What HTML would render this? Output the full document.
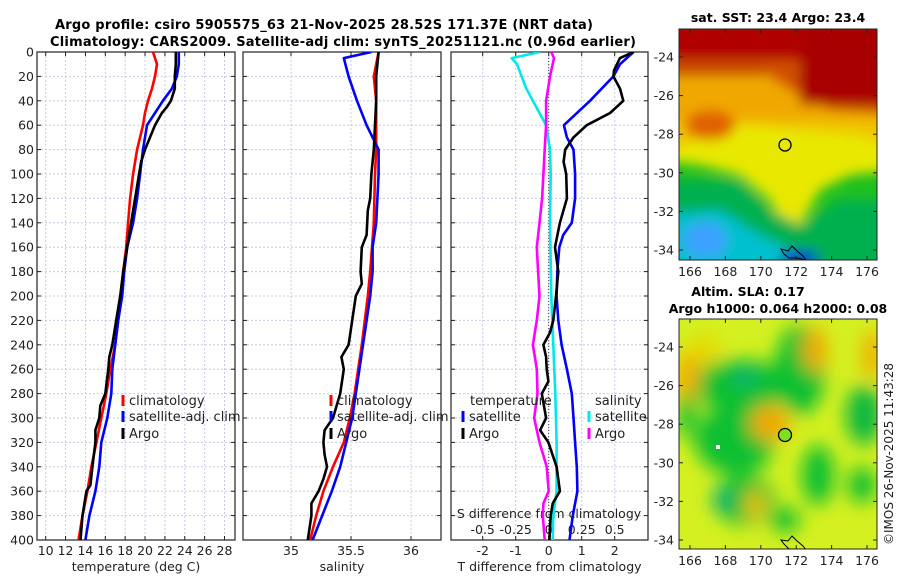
<!DOCTYPE html>
<html><head><meta charset="utf-8"><style>
body{margin:0;background:#fff}
svg{display:block;font-family:"DejaVu Sans","Liberation Sans",sans-serif}
</style></head><body>
<svg id="c" width="900" height="580" viewBox="0 0 900 580" xmlns="http://www.w3.org/2000/svg">
<defs>
<filter id="bl" x="-20%" y="-20%" width="140%" height="140%"><feGaussianBlur stdDeviation="6"/></filter>
<filter id="bl2" x="-30%" y="-30%" width="160%" height="160%"><feGaussianBlur stdDeviation="9"/></filter>
<clipPath id="cm1"><rect x="679" y="29" width="198" height="231"/></clipPath>
<clipPath id="cm2"><rect x="679" y="319" width="198" height="230"/></clipPath>
<clipPath id="cp1"><rect x="37" y="52" width="198" height="488"/></clipPath>
<clipPath id="cp2"><rect x="243" y="52" width="198" height="488"/></clipPath>
<clipPath id="cp3"><rect x="451" y="52" width="198" height="488"/></clipPath>
</defs>
<text x="324" y="29" text-anchor="middle" font-weight="bold" font-size="13" textLength="538">Argo profile: csiro 5905575_63 21-Nov-2025 28.52S 171.37E (NRT data)</text>
<text x="343" y="46" text-anchor="middle" font-weight="bold" font-size="13" textLength="586">Climatology: CARS2009. Satellite-adj clim: synTS_20251121.nc (0.96d earlier)</text>

<g clip-path="url(#cm1)">
<rect x="679" y="29" width="198" height="231" fill="#1ec020"/>
<g filter="url(#bl)">
<rect x="660" y="20" width="240" height="130" fill="#f0a800"/>
<polygon points="660,120 900,120 900,170 850,175 820,190 800,225 785,230 770,200 740,175 700,165 660,160" fill="#e8e800"/>
<polygon points="670,120 900,120 900,150 860,135 800,130 740,125 700,140 670,150" fill="#f0c400"/>
<polygon points="660,180 740,180 770,210 800,225 840,200 900,200 900,280 660,280" fill="#00b050"/>
<polygon points="660,215 720,210 760,235 790,250 760,280 660,280" fill="#00c0d0"/>
<ellipse cx="705" cy="240" rx="22" ry="18" fill="#3aa0ff"/>
<ellipse cx="800" cy="258" rx="20" ry="8" fill="#0040d0"/>
<rect x="660" y="20" width="240" height="55" fill="#b00000"/>
<polygon points="660,70 760,70 790,90 830,110 900,115 900,60 660,60" fill="#d05000"/>
<rect x="800" y="20" width="100" height="85" fill="#a80000"/>
<ellipse cx="710" cy="125" rx="25" ry="15" fill="#e06000"/>
</g>
</g>
<rect x="679" y="29" width="198" height="231" fill="none" stroke="#222" stroke-width="1"/>
<circle cx="785" cy="145" r="6" fill="none" stroke="#000" stroke-width="1.3"/>
<path d="M781,249 L788,251 L792,246 L796,250 L803,256 L806,260 L797,258 L789,258 L784,254Z" fill="none" stroke="#000" stroke-width="1" clip-path="url(#cm1)"/>
<text x="778" y="22" text-anchor="middle" font-weight="bold" font-size="12.5">sat. SST: 23.4 Argo: 23.4</text>

<g clip-path="url(#cm2)">
<rect x="679" y="319" width="198" height="230" fill="#d4f020"/>
<g filter="url(#bl2)">
<ellipse cx="740" cy="385" rx="50" ry="25" fill="#10c030"/>
<ellipse cx="735" cy="440" rx="40" ry="35" fill="#10c030"/>
<ellipse cx="800" cy="370" rx="25" ry="45" fill="#10c030"/>
<ellipse cx="745" cy="500" rx="30" ry="25" fill="#10c030"/>
<ellipse cx="864" cy="415" rx="18" ry="30" fill="#10b840"/>
<ellipse cx="818" cy="475" rx="16" ry="30" fill="#10c030"/>
<ellipse cx="862" cy="485" rx="14" ry="18" fill="#10c030"/>
<ellipse cx="785" cy="520" rx="15" ry="12" fill="#10c030"/>
<ellipse cx="687" cy="395" rx="10" ry="45" fill="#10c030"/>
<ellipse cx="745" cy="377" rx="12" ry="9" fill="#10b078"/>
<ellipse cx="722" cy="500" rx="10" ry="12" fill="#10b078"/>
<ellipse cx="770" cy="423" rx="20" ry="18" fill="#f0a800"/>
<ellipse cx="815" cy="350" rx="12" ry="22" fill="#f0a800"/>
<ellipse cx="688" cy="375" rx="12" ry="25" fill="#f0b000"/>
<ellipse cx="872" cy="355" rx="10" ry="25" fill="#f0b000"/>
<ellipse cx="755" cy="505" rx="10" ry="15" fill="#f0c000"/>
<ellipse cx="705" cy="350" rx="15" ry="15" fill="#e8d800"/>
</g>
</g>
<rect x="679" y="319" width="198" height="230" fill="none" stroke="#222" stroke-width="1"/>
<circle cx="785" cy="435" r="6.5" fill="#80e020" stroke="#000" stroke-width="1.3"/>
<rect x="716" y="445" width="4" height="4" fill="#fff"/>
<path d="M781,540 L788,541 L792,536 L796,540 L803,546 L806,550 L797,549 L789,549 L784,544Z" fill="none" stroke="#000" stroke-width="1" clip-path="url(#cm2)"/>
<text x="748" y="296" text-anchor="middle" font-weight="bold" font-size="12.5">Altim. SLA: 0.17</text>
<text x="778" y="313" text-anchor="middle" font-weight="bold" font-size="12.5">Argo h1000: 0.064 h2000: 0.08</text>
<text transform="translate(893,545) rotate(-90)" font-size="12" fill="#222">©IMOS 26-Nov-2025 11:43:28</text>
<g id="mapaxes"></g>

<g id="plots"></g>
</svg>
<script>
const depthT = [0,10,20,30,40,50,60,80,100,120,140,160,180,200,220,240,260,280,300,320,340,360,380,400];
const tempClim = [20.8,21.2,21.0,20.7,20.3,20.0,19.8,19.2,18.8,18.5,18.3,18.1,17.8,17.6,17.3,17.0,16.5,16.1,15.6,15.1,14.6,14.2,13.7,13.3];
const tempSat  = [23.4,23.4,23.2,22.7,21.8,21.0,20.2,19.8,19.5,19.2,18.8,18.2,17.9,17.7,17.3,17.0,16.7,16.6,16.2,15.6,15.4,15.0,14.4,14.0];
const depthA = [0,10,20,30,40,45,50,60,70,80,90,100,120,140,160,180,200,220,240,250,260,280,290,300,310,320,340,355,360,380,400];
const tempArgo = [23.1,23.1,23.0,23.0,22.6,22.2,21.7,21.0,20.5,20.0,19.6,19.4,19.0,18.6,18.2,17.8,17.5,17.1,16.7,16.4,16.3,16.0,15.5,15.4,15.0,15.0,14.7,14.5,14.1,13.7,13.5];
const depthS = [0,20,40,80,100,140,180,200,240,260,280,300,320,340,360,380,400];
const salClim = [35.73,35.69,35.71,35.71,35.70,35.69,35.66,35.64,35.59,35.56,35.53,35.49,35.44,35.35,35.27,35.21,35.16];
const depthSS = [0,5,20,40,60,70,80,100,140,160,180,200,220,240,260,280,300,320,340,360,380,400];
const salSat = [35.67,35.44,35.48,35.55,35.63,35.68,35.73,35.73,35.71,35.68,35.68,35.66,35.63,35.60,35.57,35.54,35.51,35.46,35.41,35.34,35.26,35.18];
const depthSA = [0,20,40,60,80,100,120,130,150,160,180,190,200,220,240,250,260,280,290,300,310,320,330,340,350,360,370,380,400];
const salArgo = [35.73,35.71,35.71,35.70,35.69,35.67,35.66,35.64,35.63,35.59,35.58,35.59,35.54,35.51,35.48,35.42,35.44,35.41,35.38,35.35,35.28,35.27,35.28,35.30,35.27,35.23,35.17,35.17,35.14];
const depthD = [0,10,20,40,60,70,80,100,120,140,150,160,180,200,220,240,260,280,300,320,340,360,380,400];
const tdiffSat = [2.57,2.16,1.96,1.25,0.46,0.55,0.75,0.80,0.80,0.70,0.44,0.32,0.26,0.24,0.29,0.39,0.55,0.70,0.75,0.80,0.85,0.87,0.73,0.63];
const depthDA = [0,5,15,20,30,40,50,60,70,80,90,100,120,140,160,180,200,220,230,240,250,260,270,280,300,310,320,340,360,370,380,400];
const tdiffArgo = [2.57,2.16,1.98,1.96,2.16,2.26,1.86,1.15,0.75,0.50,0.45,0.53,0.55,0.34,0.19,0.29,0.22,0.14,0.04,-0.16,-0.08,-0.06,-0.01,-0.21,-0.08,-0.26,-0.01,0.24,0.34,0.12,0.06,0.02];
const depthDS = [0,5,10,30,40,60,80,100,140,200,240,280,320,360,380,400];
const sdiffSat = [-0.066,-0.28,-0.24,-0.17,-0.12,-0.02,0.01,0.015,0.01,0.02,0.035,0.05,0.06,0.06,0.035,0.03];
const depthDSA = [0,5,20,40,60,80,100,120,140,160,180,200,220,240,260,280,300,310,320,340,360,370,380,400];
const sdiffArgo = [0.02,0.04,0.01,-0.02,-0.02,-0.03,-0.04,-0.05,-0.07,-0.09,-0.08,-0.07,-0.09,-0.12,-0.09,-0.085,-0.11,-0.09,-0.07,-0.015,0.0,-0.04,-0.045,-0.03];
const yTicks = [0,20,40,60,80,100,120,140,160,180,200,220,240,260,280,300,320,340,360,380,400];
const tTicks = [10,12,14,16,18,20,22,24,26,28];
const sTicks = [35,35.5,36];
const dTicks = [-2,-1,0,1,2];
const sdTicks = [-0.5,-0.25,0,0.25,0.5];
const latTicks = [-24,-26,-28,-30,-32,-34];
const lonTicks = [166,168,170,172,174,176];

const NS='http://www.w3.org/2000/svg';
const plots=document.getElementById('plots');
function mk(tag,attrs,parent){const e=document.createElementNS(NS,tag);for(const k in attrs)e.setAttribute(k,attrs[k]);(parent||plots).appendChild(e);return e;}
const axTop=52,axBot=540;
const yS=d=>axTop+(d/400)*(axBot-axTop);
function xScale(x0,x1,v0,v1){return v=>x0+(v-v0)/(v1-v0)*(x1-x0);}
const panels=[
 {x0:37,x1:235,sc:xScale(45.7,224.5,10,28),ticks:tTicks,lab:'temperature (deg C)',name:'temperature-panel'},
 {x0:243,x1:441,sc:xScale(291,411,35,36),ticks:sTicks,lab:'salinity',name:'salinity-panel'},
 {x0:451,x1:648,sc:xScale(482.7,548.7,-2,0),ticks:dTicks,lab:'T difference from climatology',name:'difference-panel'}
];
panels.forEach((p,i)=>{
 const g=mk('g',{});
 
 
 yTicks.forEach(d=>{ if(d>0&&d<400) mk('line',{x1:p.x0,x2:p.x1,y1:yS(d),y2:yS(d),stroke:'#c4cce4','stroke-dasharray':'2,2','stroke-width':1},g);});
 p.ticks.forEach(t=>{const x=p.sc(t); mk('line',{x1:x,x2:x,y1:axTop,y2:axBot,stroke:'#c4cce4','stroke-dasharray':'2,2','stroke-width':1},g);
   mk('line',{x1:x,x2:x,y1:axTop,y2:axTop+4,stroke:'#222'},g); mk('line',{x1:x,x2:x,y1:axBot,y2:axBot-4,stroke:'#222'},g);
   const tx=mk('text',{x:x,y:axBot+15,'text-anchor':'middle','font-size':12.5,fill:'#222'},g); tx.textContent=String(t);
 });
 yTicks.forEach(d=>{mk('line',{x1:p.x0,x2:p.x0+4,y1:yS(d),y2:yS(d),stroke:'#222'},g);mk('line',{x1:p.x1,x2:p.x1-4,y1:yS(d),y2:yS(d),stroke:'#222'},g);
   if(i===0){const tx=mk('text',{x:p.x0-3,y:yS(d)+4.5,'text-anchor':'end','font-size':12.5,fill:'#222'},g);tx.textContent=String(d);}});
 mk('rect',{x:p.x0,y:axTop,width:p.x1-p.x0,height:axBot-axTop,fill:'none',stroke:'#222','stroke-width':1.2},g);
 const l=mk('text',{x:(p.x0+p.x1)/2,y:571,'text-anchor':'middle','font-size':12.5,fill:'#222'},g); l.textContent=p.lab;
});
const pd=panels[2];
mk('line',{x1:pd.sc(0),x2:pd.sc(0),y1:axTop,y2:axBot,stroke:'#444','stroke-dasharray':'1,2','stroke-width':1});
const sdS=v=>pd.sc(v*4);
sdTicks.forEach(t=>{const tx=mk('text',{x:sdS(t),y:534,'text-anchor':'middle','font-size':12.5,fill:'#222'});tx.textContent=String(t);});
const sdl=mk('text',{x:549,y:518,'text-anchor':'middle','font-size':12.5,fill:'#222'});sdl.textContent='S difference from climatology';



function line(depths,vals,sc,color,name,clip){
 const pts=depths.map((d,k)=>sc(vals[k]).toFixed(1)+','+yS(d).toFixed(1)).join(' ');
 const e=mk('polyline',{points:pts,fill:'none',stroke:color,'stroke-width':2.6,'stroke-linejoin':'round','clip-path':'url(#'+clip+')'});
 
 
}
line(depthT,tempClim,panels[0].sc,'#ff0000','temp-climatology-line','cp1');
line(depthT,tempSat,panels[0].sc,'#0000ff','temp-satellite-line','cp1');
line(depthA,tempArgo,panels[0].sc,'#000000','temp-argo-line','cp1');
line(depthS,salClim,panels[1].sc,'#ff0000','sal-climatology-line','cp2');
line(depthSS,salSat,panels[1].sc,'#0000ff','sal-satellite-line','cp2');
line(depthSA,salArgo,panels[1].sc,'#000000','sal-argo-line','cp2');
line(depthDS,sdiffSat,sdS,'#00e8e8','sdiff-satellite-line','cp3');
line(depthDSA,sdiffArgo,sdS,'#ff00ff','sdiff-argo-line','cp3');
line(depthD,tdiffSat,pd.sc,'#0000ff','tdiff-satellite-line','cp3');
line(depthDA,tdiffArgo,pd.sc,'#000000','tdiff-argo-line','cp3');

function leg(x,y,color,label,name){
 const g=mk('g',{});
 
 
 mk('rect',{x:x-1.5,y:y-10,width:3,height:11,fill:color},g);
 const t=mk('text',{x:x+6,y:y,'font-size':13,fill:'#222'},g);t.textContent=label;
}
leg(123,405,'#ff0000','climatology','legend-climatology');
leg(123,421,'#0000ff','satellite-adj. clim','legend-satellite-adj');
leg(123,438,'#000000','Argo','legend-argo');
leg(331,405,'#ff0000','climatology','legend-sal-climatology');
leg(331,421,'#0000ff','satellite-adj. clim','legend-sal-satellite-adj');
leg(331,438,'#000000','Argo','legend-sal-argo');
const tt=mk('text',{x:470,y:405,'font-size':13,fill:'#222'});tt.textContent='temperature';
const st=mk('text',{x:595,y:405,'font-size':13,fill:'#222'});st.textContent='salinity';
leg(463,421,'#0000ff','satellite','legend-tdiff-satellite');
leg(463,438,'#000000','Argo','legend-tdiff-argo');
leg(589,421,'#00e8e8','satellite','legend-sdiff-satellite');
leg(589,438,'#ff00ff','Argo','legend-sdiff-argo');

const ma=document.getElementById('mapaxes');
[{y0:29,y1:260,lat24:57},{y0:319,y1:549,lat24:347}].forEach(m=>{
 latTicks.forEach(la=>{const y=m.lat24+(-24-la)*19.3;
  mk('line',{x1:679,x2:683,y1:y,y2:y,stroke:'#222'},ma);mk('line',{x1:877,x2:873,y1:y,y2:y,stroke:'#222'},ma);
  const t=mk('text',{x:674,y:y+4.5,'text-anchor':'end','font-size':12.5,fill:'#222'},ma);t.textContent=String(la);});
 lonTicks.forEach(lo=>{const x=690+(lo-166)*17.7;
  mk('line',{x1:x,x2:x,y1:m.y1,y2:m.y1-4,stroke:'#222'},ma);mk('line',{x1:x,x2:x,y1:m.y0,y2:m.y0+4,stroke:'#222'},ma);
  const t=mk('text',{x:x,y:m.y1+16,'text-anchor':'middle','font-size':12.5,fill:'#222'},ma);t.textContent=String(lo);});
});
</script>
</body></html>
